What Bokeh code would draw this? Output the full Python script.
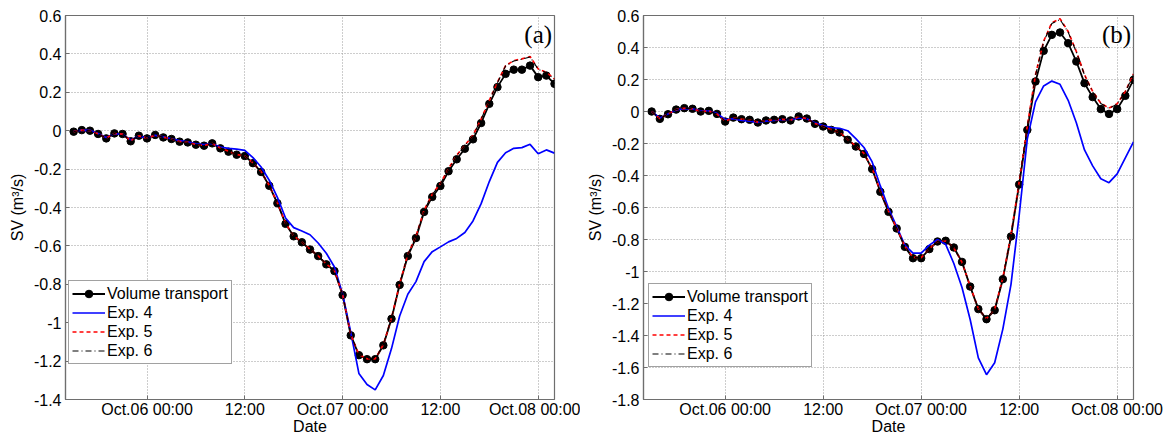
from bokeh.plotting import figure
from bokeh.models import (FixedTicker, PrintfTickFormatter, Legend, LegendItem,
                          Label, Range1d, ColumnDataSource)
from bokeh.layouts import row
from bokeh.embed import file_html
from bokeh.resources import INLINE

# hours since Oct.05 14:00 (hourly samples)
hours = list(range(1, 61))
x_ticks = [10, 22, 34, 46, 58]
x_tick_labels = ["Oct.06 00:00", "12:00", "Oct.07 00:00", "12:00", "Oct.08 00:00"]
y_ticks_a = [-1.4, -1.2, -1.0, -0.8, -0.6, -0.4, -0.2, 0.0, 0.2, 0.4, 0.6]
y_ticks_b = [-1.8, -1.6, -1.4, -1.2, -1.0, -0.8, -0.6, -0.4, -0.2, 0.0, 0.2, 0.4, 0.6]

# ---- panel (a)
vt_a = [-0.005, 0.003, 0.0, -0.017, -0.04, -0.014, -0.017, -0.055, -0.026, -0.04,
        -0.022, -0.035, -0.043, -0.057, -0.061, -0.073, -0.078, -0.066, -0.092, -0.109,
        -0.125, -0.132, -0.169, -0.215, -0.287, -0.378, -0.485, -0.55, -0.581, -0.619,
        -0.653, -0.696, -0.731, -0.856, -1.066, -1.169, -1.19, -1.19, -1.118, -0.98,
        -0.803, -0.653, -0.559, -0.423, -0.345, -0.288, -0.211, -0.149, -0.094, -0.045,
        0.04, 0.14, 0.227, 0.296, 0.318, 0.318, 0.339, 0.279, 0.287, 0.244]
exp4_a = [-0.004, 0.003, 0.002, -0.015, -0.035, -0.016, -0.018, -0.048, -0.028, -0.038,
          -0.024, -0.032, -0.042, -0.052, -0.058, -0.068, -0.072, -0.068, -0.085, -0.092,
          -0.096, -0.102, -0.14, -0.189, -0.258, -0.347, -0.455, -0.505, -0.522, -0.542,
          -0.585, -0.638, -0.71, -0.85, -1.05, -1.264, -1.322, -1.35, -1.275, -1.135,
          -0.965, -0.852, -0.786, -0.682, -0.63, -0.605, -0.579, -0.561, -0.53, -0.47,
          -0.38, -0.265, -0.165, -0.115, -0.092, -0.088, -0.071, -0.12, -0.10, -0.117]
exp5_a = [-0.005, 0.003, 0.0, -0.016, -0.038, -0.015, -0.018, -0.052, -0.027, -0.039,
          -0.023, -0.034, -0.043, -0.056, -0.06, -0.072, -0.077, -0.067, -0.09, -0.107,
          -0.124, -0.131, -0.168, -0.213, -0.285, -0.376, -0.482, -0.548, -0.58, -0.617,
          -0.651, -0.694, -0.729, -0.852, -1.062, -1.166, -1.188, -1.188, -1.114, -0.975,
          -0.797, -0.645, -0.55, -0.414, -0.331, -0.275, -0.197, -0.128, -0.076, -0.024,
          0.062, 0.157, 0.252, 0.339, 0.365, 0.374, 0.386, 0.322, 0.304, 0.27]
exp6_a = [-0.005, 0.003, 0.0, -0.016, -0.038, -0.015, -0.018, -0.052, -0.027, -0.039,
          -0.023, -0.034, -0.043, -0.056, -0.06, -0.072, -0.077, -0.067, -0.09, -0.107,
          -0.124, -0.131, -0.168, -0.213, -0.285, -0.376, -0.482, -0.548, -0.58, -0.617,
          -0.651, -0.694, -0.729, -0.852, -1.062, -1.166, -1.188, -1.188, -1.114, -0.975,
          -0.797, -0.645, -0.55, -0.416, -0.333, -0.277, -0.199, -0.13, -0.078, -0.026,
          0.06, 0.155, 0.25, 0.337, 0.363, 0.372, 0.384, 0.32, 0.302, 0.268]

# ---- panel (b)
vt_b = [0.0, -0.046, -0.017, 0.012, 0.021, 0.017, 0.0, 0.004, -0.015, -0.063,
        -0.038, -0.048, -0.052, -0.069, -0.056, -0.052, -0.048, -0.056, -0.031, -0.044,
        -0.077, -0.094, -0.115, -0.131, -0.177, -0.219, -0.265, -0.36, -0.502, -0.627,
        -0.731, -0.846, -0.917, -0.917, -0.86, -0.8125, -0.808, -0.85, -0.94, -1.094,
        -1.235, -1.298, -1.242, -1.048, -0.781, -0.456, -0.115, 0.1875, 0.379, 0.479,
        0.494, 0.427, 0.3125, 0.177, 0.09, 0.015, -0.015, 0.015, 0.098, 0.198]
exp4_b = [0.0, -0.04, -0.015, 0.01, 0.018, 0.016, 0.004, 0.004, -0.012, -0.05,
          -0.045, -0.055, -0.06, -0.068, -0.06, -0.055, -0.05, -0.052, -0.04, -0.045,
          -0.07, -0.088, -0.1, -0.105, -0.12, -0.17, -0.225, -0.315, -0.465, -0.605,
          -0.72, -0.835, -0.885, -0.885, -0.835, -0.80, -0.83, -0.95, -1.10, -1.30,
          -1.54, -1.645, -1.57, -1.36, -1.08, -0.65, -0.17, 0.06, 0.16, 0.19,
          0.17, 0.07, -0.07, -0.24, -0.34, -0.42, -0.445, -0.39, -0.29, -0.19]
exp5_b = [0.0, -0.044, -0.016, 0.012, 0.02, 0.017, 0.001, 0.003, -0.016, -0.06,
          -0.04, -0.048, -0.053, -0.066, -0.057, -0.052, -0.049, -0.054, -0.033, -0.045,
          -0.075, -0.093, -0.113, -0.13, -0.174, -0.216, -0.262, -0.356, -0.498, -0.623,
          -0.728, -0.842, -0.912, -0.913, -0.858, -0.812, -0.81, -0.853, -0.943, -1.092,
          -1.232, -1.294, -1.236, -1.04, -0.77, -0.44, -0.09, 0.23, 0.44, 0.555,
          0.58, 0.50, 0.375, 0.23, 0.125, 0.052, 0.021, 0.048, 0.125, 0.235]
exp6_b = [0.0, -0.044, -0.016, 0.012, 0.02, 0.017, 0.001, 0.003, -0.016, -0.06,
          -0.04, -0.048, -0.053, -0.066, -0.057, -0.052, -0.049, -0.054, -0.033, -0.045,
          -0.075, -0.093, -0.113, -0.13, -0.174, -0.216, -0.262, -0.356, -0.498, -0.623,
          -0.728, -0.842, -0.912, -0.913, -0.858, -0.812, -0.81, -0.853, -0.943, -1.092,
          -1.232, -1.294, -1.236, -1.042, -0.773, -0.443, -0.093, 0.226, 0.436, 0.55,
          0.575, 0.496, 0.372, 0.228, 0.122, 0.05, 0.019, 0.046, 0.122, 0.232]

series_labels = ["Volume transport", "Exp. 4", "Exp. 5", "Exp. 6"]
FONT = "Liberation Sans"
FS = "16px"
AXIS_COL = "#6e6e6e"


def make_panel(tag, vt, e4, e5, e6, y_range, y_ticks, width, mbl, mbr, leg_loc):
    p = figure(width=width, height=437, x_range=Range1d(0, 60),
               y_range=Range1d(*y_range), output_backend="svg",
               toolbar_location=None, min_border_left=mbl, min_border_right=mbr,
               min_border_top=15, min_border_bottom=36)
    p.title.visible = False
    p.background_fill_color = "white"
    p.border_fill_color = "white"
    p.outline_line_color = AXIS_COL
    p.outline_line_width = 1.2

    xt = FixedTicker(ticks=x_ticks)
    yt = FixedTicker(ticks=y_ticks)
    overrides = {t: lab for t, lab in zip(x_ticks, x_tick_labels)}

    for ax in (p.xaxis[0], p.yaxis[0]):
        ax.major_label_text_font = FONT
        ax.major_label_text_font_size = FS
        ax.major_label_text_color = "black"
        ax.axis_label_text_font = FONT
        ax.axis_label_text_font_size = FS
        ax.axis_label_text_font_style = "normal"
        ax.axis_label_text_color = "black"
        ax.axis_line_color = AXIS_COL
        ax.axis_line_width = 1.2
        ax.major_tick_line_color = AXIS_COL
        ax.major_tick_in = 4
        ax.major_tick_out = 0
        ax.minor_tick_line_color = None

    p.xaxis[0].ticker = xt
    p.xaxis[0].major_label_overrides = overrides
    p.xaxis[0].axis_label = "Date"
    p.xaxis[0].major_label_standoff = 1
    p.xaxis[0].axis_label_standoff = -3

    p.yaxis[0].ticker = yt
    p.yaxis[0].formatter = PrintfTickFormatter(format="%g")
    p.yaxis[0].axis_label = "SV (m³/s)"
    p.yaxis[0].major_label_standoff = 4
    p.yaxis[0].axis_label_standoff = 5

    for g, t in ((p.xgrid[0], xt), (p.ygrid[0], yt)):
        g.ticker = t
        g.grid_line_color = "#9a9a9a"
        g.grid_line_dash = "1 2"
        g.grid_line_width = 1

    src = ColumnDataSource(dict(h=hours, vt=vt, e4=e4, e5=e5, e6=e6))
    l_vt = p.line("h", "vt", source=src, line_color="black", line_width=1.8)
    s_vt = p.scatter("h", "vt", source=src, marker="circle", size=7.5,
                     fill_color="black", line_color="black")
    l4 = p.line("h", "e4", source=src, line_color="#0000ff", line_width=1.7)
    l5 = p.line("h", "e5", source=src, line_color="#ff0000", line_width=1.7,
                line_dash="4 3")
    l6 = p.line("h", "e6", source=src, line_color="black", line_width=1.1,
                line_dash="6 3 1 3")

    items = [LegendItem(label=series_labels[0], renderers=[l_vt, s_vt]),
             LegendItem(label=series_labels[1], renderers=[l4]),
             LegendItem(label=series_labels[2], renderers=[l5]),
             LegendItem(label=series_labels[3], renderers=[l6])]
    leg = Legend(items=items, location=leg_loc, glyph_width=33, glyph_height=19,
                 label_height=19, label_standoff=2, padding=3, spacing=0,
                 margin=0, border_line_color="#444444", border_line_width=1.2,
                 label_text_font=FONT, label_text_font_size=FS,
                 label_text_color="black",
                 background_fill_color="white", background_fill_alpha=1)
    p.add_layout(leg)

    p.add_layout(Label(x=59.7, y=y_range[1] - (y_range[1] - y_range[0]) * 0.015,
                       text=tag, text_align="right", text_baseline="top",
                       text_font="Liberation Serif", text_font_size="25px",
                       text_color="black"))
    return p


pa = make_panel("(a)", vt_a, exp4_a, exp5_a, exp6_a, (-1.4, 0.6), y_ticks_a,
                580, 65, 26, (3, 35))
pb = make_panel("(b)", vt_b, exp4_b, exp5_b, exp6_b, (-1.8, 0.6), y_ticks_b,
                583, 63, 30, (5, 32))

layout = row(pa, pb)
open("out.html", "w").write(file_html(layout, INLINE))
